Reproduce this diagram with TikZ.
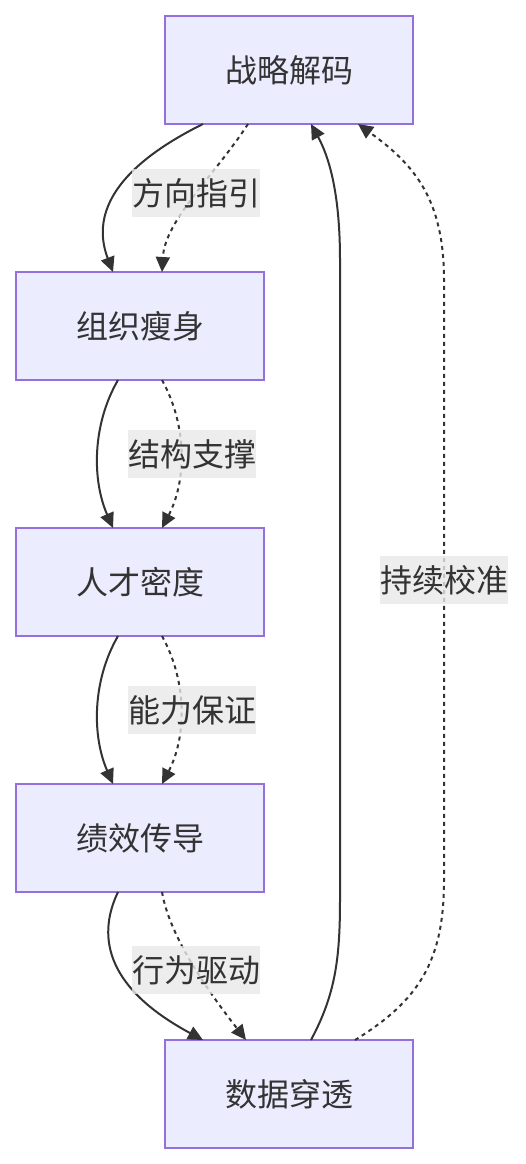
\documentclass[tikz,border=0pt]{standalone}
\usepackage{fontspec}
\newfontfamily\cjk{Noto Sans CJK SC}
\usetikzlibrary{positioning,arrows.meta,calc}
\definecolor{boxfill}{HTML}{ECECFF}
\definecolor{boxline}{HTML}{9370DB}
\definecolor{ink}{HTML}{333333}
\definecolor{lblgray}{HTML}{E8E8E8}
\tikzset{
  stage/.style={draw=boxline, fill=boxfill, line width=2pt, outer sep=0pt,
    minimum width=248pt, minimum height=108pt, inner sep=0pt,
    text=ink, font=\cjk\fontsize{32}{38}\selectfont},
  lbl/.style={fill=lblgray, fill opacity=0.8, text opacity=1, text=ink,
    inner xsep=0pt, inner ysep=0pt, minimum height=48pt,
    font=\cjk\fontsize{32}{38}\selectfont},
  flow/.style={draw=ink, line width=2pt, -{Triangle[length=15pt,width=14pt]}},
  trace/.style={flow, dash pattern=on 4pt off 4pt}
}
\begin{document}
\begin{tikzpicture}[x=1pt, y=-1pt]
    \useasboundingbox (0,0) rectangle (525,1164);

    \node[stage] (zl) at (289,70) {战略解码};
    \node[stage, below=148pt of zl, xshift=-149pt] (zz) {组织瘦身};
    \node[stage, below=148pt of zz] (rc) {人才密度};
    \node[stage, below=148pt of rc] (jx) {绩效传导};
    \node[stage, below=148pt of jx, xshift=149pt] (ss) {数据穿透};

    \draw[flow]  ([xshift=38pt]zl.south west) .. controls (100,175) and (95,225) .. ([xshift=97pt]zz.north west);
    \draw[trace] ([xshift=83pt]zl.south west) .. controls (215,175) and (165,220) .. ([xshift=146pt]zz.north west);

    \draw[flow]  ([xshift=102pt]zz.south west) .. controls (92,425) and (92,480) .. ([xshift=97pt]rc.north west);
    \draw[trace] ([xshift=146pt]zz.south west) .. controls (187,425) and (187,480) .. ([xshift=146pt]rc.north west);

    \draw[flow]  ([xshift=102pt]rc.south west) .. controls (92,681) and (92,736) .. ([xshift=97pt]jx.north west);
    \draw[trace] ([xshift=146pt]rc.south west) .. controls (187,681) and (187,736) .. ([xshift=146pt]jx.north west);

    \draw[flow]  ([xshift=102pt]jx.south west) .. controls (95,940) and (110,990) .. ([xshift=38pt]ss.north west);
    \draw[trace] ([xshift=146pt]jx.south west) .. controls (170,940) and (215,1000) .. ([xshift=81pt]ss.north west);

    % feedback loop
    \draw[flow]  ([xshift=146pt]ss.north west) .. controls (335,995) and (340,960) .. (340,900)
      -- (340,260) .. controls (340,190) and (328,155) .. ([xshift=146pt]zl.south west);
    \draw[trace] ([xshift=190pt]ss.north west) .. controls (420,1000) and (444,960) .. (444,880)
      -- node[lbl] (lb5) {持续校准} (444,280) .. controls (444,200) and (415,165) .. ([xshift=193pt]zl.south west);

    \node[lbl] (lb1) at (196,193) {方向指引};
    \node[lbl] (lb2) at (192,454) {结构支撑};
    \node[lbl] (lb3) at (192,710) {能力保证};
    \node[lbl] (lb4) at (196,970) {行为驱动};
\end{tikzpicture}
\end{document}
